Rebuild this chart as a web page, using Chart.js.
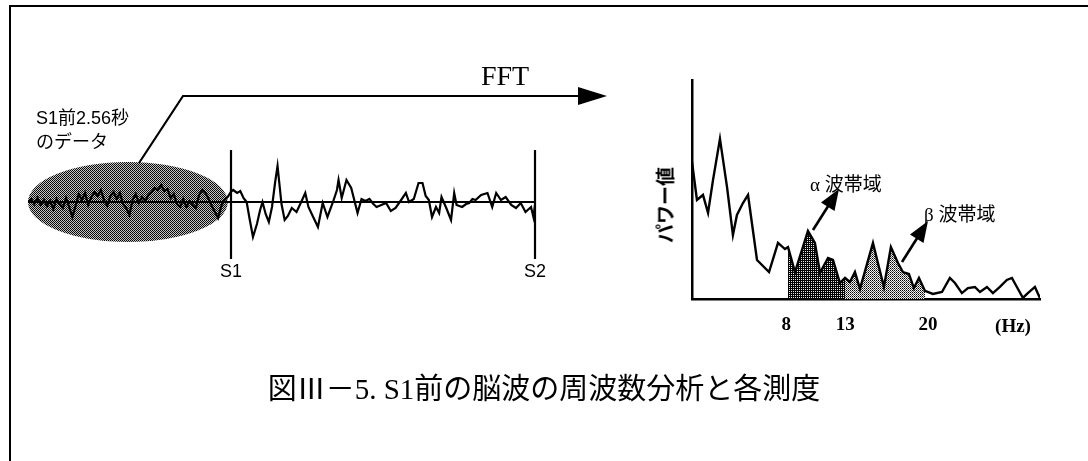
<!DOCTYPE html>
<html>
<head>
<meta charset="utf-8">
<script src="https://cdn.jsdelivr.net/npm/chart.js@4.4.1/dist/chart.umd.min.js"></script>
<style>
  html, body { margin: 0; padding: 0; background: #fff; }
  #wrap { position: relative; width: 1088px; height: 461px; overflow: hidden; background: #fff; }
  #wrap canvas { position: absolute; left: 0; top: 0; }
  .lbl { position: absolute; white-space: nowrap; color: #000; line-height: 1; }
  .sans { font-family: "Liberation Sans", "Noto Sans CJK JP", sans-serif; }
  .serif { font-family: "Liberation Serif", "Noto Sans CJK JP", serif; }
  .cjk { font-family: "Noto Sans CJK JP", sans-serif; }
</style>
</head>
<body>
<div id="wrap">
  <canvas id="eeg" width="1088" height="461"></canvas>
  <canvas id="spec" width="1088" height="461"></canvas>

  <div class="lbl serif" style="left:505px;top:76px;font-size:28px;transform:translate(-50%,-50%);">FFT</div>
  <div class="lbl sans" style="left:36px;top:118px;font-size:18px;transform:translateY(-50%);">S1前2.56秒</div>
  <div class="lbl sans" style="left:36px;top:142px;font-size:18px;transform:translateY(-50%);">のデータ</div>

  <div class="lbl cjk" style="left:664px;top:205px;font-size:19px;font-weight:bold;transform:translate(-50%,-50%) rotate(-90deg);">パワー値</div>
  <div class="lbl" style="left:810px;top:183px;font-size:19px;transform:translateY(-50%);"><span class="serif">α</span> <span class="cjk">波帯域</span></div>
  <div class="lbl" style="left:924px;top:213px;font-size:19px;transform:translateY(-50%);"><span class="serif">β</span> <span class="cjk">波帯域</span></div>
  <div class="lbl serif" style="left:1013px;top:325px;font-size:19px;font-weight:bold;transform:translate(-50%,-50%);">(Hz)</div>

  <div class="lbl" style="left:544px;top:388px;font-size:29px;transform:translate(-50%,-50%);"><span class="cjk">図Ⅲ－</span><span class="serif">5. S1</span><span class="cjk">前の脳波の周波数分析と各測度</span></div>
</div>

<script>
// ---- EEG trace (time in s relative to S1, amplitude in µV) ----
const eegTime = [
  -2.56, -2.52, -2.48, -2.44, -2.40, -2.36, -2.32, -2.28, -2.24, -2.20,
  -2.16, -2.12, -2.08, -2.04, -2.00, -1.96, -1.92, -1.88, -1.84, -1.80,
  -1.76, -1.72, -1.68, -1.64, -1.60, -1.56, -1.52, -1.48, -1.44, -1.40,
  -1.36, -1.32, -1.28, -1.24, -1.20, -1.16, -1.12, -1.08, -1.04, -1.00,
  -0.96, -0.92, -0.88, -0.84, -0.80, -0.76, -0.72, -0.68, -0.64, -0.60,
  -0.56, -0.52, -0.48, -0.44, -0.40, -0.36, -0.32, -0.28, -0.24, -0.20,
  -0.16, -0.12, -0.08, -0.04, 0.00,
  0.03, 0.08, 0.12, 0.16, 0.20, 0.24, 0.28, 0.33, 0.37, 0.40,
  0.44, 0.48, 0.52, 0.56, 0.59, 0.64, 0.68, 0.72, 0.77, 0.83,
  0.90, 0.94, 0.98, 1.04, 1.10, 1.16, 1.22, 1.29, 1.34, 1.36,
  1.40, 1.46, 1.52, 1.60, 1.65, 1.70, 1.75, 1.80, 1.84, 1.90,
  1.96, 2.02, 2.08, 2.15, 2.21, 2.25, 2.31, 2.37, 2.42, 2.46,
  2.50, 2.54, 2.59, 2.63, 2.66, 2.72, 2.78, 2.82, 2.85, 2.92,
  2.97, 3.01, 3.05, 3.09, 3.16, 3.24, 3.30, 3.35, 3.41, 3.47,
  3.54, 3.60, 3.66, 3.72, 3.79, 3.82, 3.84
];
const eegAmp = [
  0, 3, -2, 4, -3, 2, -4, 1, -7, 3,
  -2, -6, 4, -5, -15, -4, 8, 2, 9, -3,
  5, 10, 6, 12, 2, -4, 6, 10, 3, 9,
  -2, -6, -13, 2, 8, -1, 5, 1, 7, 10,
  14, 12, 17, 11, 13, 4, 8, -2, -5, 3,
  -5, 1, -3, -6, 7, 12, 9, 3, -4, -10,
  -16, -4, 2, 5, 10,
  12, 9, 11, 4, 0, -18, -35, -22, -8, 0,
  -12, -20, -5, 20, 36, -2, -18, -14, -6, -10,
  2, 9, -5, -15, -25, -1, -15, 0, 12, 22,
  4, 22, 14, -11, 3, 1, 3, -2, -5, -3,
  -1, -9, -6, 2, 9, 0, 3, 19, 19, 6,
  2, -15, -5, -11, 5, -6, -18, 9, -3, -5,
  -2, -1, 3, 2, 7, 9, -5, 9, 2, 5,
  -3, -6, -1, -10, -5, -15, -3
];
const analysisWindow = [-2.56, 0];      // S1前2.56秒
const eventTimes = [0, 3.84];
const eventLabels = ['S1', 'S2'];

// ---- Power spectrum of the analysis window ----
const freqHz = [
  0.0, 0.42, 0.93, 1.36, 1.78, 2.37, 2.97, 3.47, 3.81, 4.32,
  4.75, 5.51, 6.53, 7.29, 7.88, 8.14, 8.73, 9.83, 10.42, 10.85,
  11.53, 11.95, 12.54, 12.97, 13.39, 13.81, 14.24, 15.34, 15.76, 16.27,
  16.86, 17.46, 17.88, 18.39, 18.81, 19.24, 19.75, 20.42, 21.19, 21.86,
  22.29, 22.88, 23.39, 23.98, 24.41, 25.0, 25.51, 26.1, 26.69, 27.12,
  27.54, 28.05, 28.47, 29.07, 29.49
];
const power = [
  62.6, 45.2, 47.5, 39.3, 54.3, 73.1, 51.1, 29.2, 38.4, 43.8,
  47.5, 17.8, 12.3, 25.6, 22.8, 23.7, 12.3, 31.1, 25.6, 11.9,
  18.7, 17.8, 7.3, 9.6, 7.8, 12.3, 4.6, 25.6, 16.4, 5.5,
  23.7, 16.4, 12.3, 11.4, 5.0, 9.6, 3.7, 2.3, 3.2, 9.6,
  7.3, 2.7, 5.0, 5.5, 3.2, 5.5, 2.7, 5.5, 8.7, 9.6,
  5.5, 0.5, 2.7, 5.5, 0.5
];
const alphaBand = [8, 13];
const betaBand = [13, 20];
const freqTicks = [8, 13, 20];

// ---- halftone fills ----
function halftone(cells, base) {
  const c = document.createElement('canvas');
  c.width = 2; c.height = 2;
  const g = c.getContext('2d');
  g.fillStyle = base;
  g.fillRect(0, 0, 2, 2);
  cells.forEach(([x, y, col]) => { g.fillStyle = col; g.fillRect(x, y, 1, 1); });
  return g.createPattern(c, 'repeat');
}
const windowFill = halftone([[0, 0, '#000'], [1, 1, '#111']], '#c4c4c4');
const alphaFill = halftone([[0, 0, '#000'], [1, 0, '#000'], [0, 1, '#000']], '#e8e8e8');
const betaFill = halftone([[0, 0, '#000'], [1, 1, '#555']], '#f2f2f2');

const toPoints = (xs, ys) => xs.map((x, i) => ({ x, y: ys[i] }));
const eegPoints = toPoints(eegTime, eegAmp);
const specPoints = toPoints(freqHz, power);
const alphaPoints = specPoints.filter(p => p.x >= alphaBand[0] && p.x <= alphaBand[1]);
const alphaEnd = alphaPoints[alphaPoints.length - 1].x;
const betaPoints = specPoints.filter(p => p.x >= alphaEnd && p.x <= betaBand[1]);

const W = 1088, H = 461;

// window ellipse, baseline and S1/S2 event markers
const eegMarks = {
  id: 'eegMarks',
  beforeDatasetsDraw(chart) {
    const { ctx, chartArea, scales: { x, y } } = chart;
    const x0 = x.getPixelForValue(analysisWindow[0]);
    const x1 = x.getPixelForValue(analysisWindow[1]);
    const yc = y.getPixelForValue(0);
    const ry = yc - y.getPixelForValue(40);
    ctx.save();
    ctx.fillStyle = windowFill;
    ctx.beginPath();
    ctx.ellipse((x0 + x1) / 2 - 1.5, yc, (x1 - x0) / 2 - 1.5, ry, 0, 0, Math.PI * 2);
    ctx.fill();
    ctx.strokeStyle = '#000';
    ctx.lineWidth = 1.8;
    ctx.beginPath();
    ctx.moveTo(chartArea.left, yc);
    ctx.lineTo(x.getPixelForValue(eventTimes[1]), yc);
    ctx.stroke();
    ctx.restore();
  },
  afterDatasetsDraw(chart) {
    const { ctx, chartArea, scales: { x } } = chart;
    ctx.save();
    ctx.strokeStyle = '#000';
    ctx.lineWidth = 2.2;
    ctx.fillStyle = '#000';
    ctx.font = '18px "Liberation Sans", sans-serif';
    ctx.textAlign = 'center';
    ctx.textBaseline = 'middle';
    eventTimes.forEach((t, i) => {
      const px = Math.round(x.getPixelForValue(t));
      ctx.beginPath();
      ctx.moveTo(px, chartArea.top);
      ctx.lineTo(px, chartArea.bottom);
      ctx.stroke();
      ctx.fillText(eventLabels[i], px, chartArea.bottom + 13);
    });
    ctx.restore();
  }
};

new Chart(document.getElementById('eeg'), {
  type: 'line',
  data: {
    datasets: [{
      data: eegPoints,
      borderColor: '#000',
      borderWidth: 2.2,
      pointRadius: 0,
      tension: 0,
      fill: false
    }]
  },
  options: {
    responsive: false,
    animation: false,
    events: [],
    layout: { padding: { left: 28, right: W - 535, top: 150, bottom: H - 259 } },
    plugins: { legend: { display: false }, tooltip: { enabled: false } },
    scales: {
      x: { type: 'linear', display: false, min: -2.56, max: 3.84 },
      y: { type: 'linear', display: false, min: -57, max: 52 }
    }
  },
  plugins: [eegMarks]
});

// frame, FFT arrow and band pointers
function arrow(ctx, x0, y0, x1, y1, head, half, width) {
  const dx = x1 - x0, dy = y1 - y0, len = Math.hypot(dx, dy);
  const ux = dx / len, uy = dy / len;
  const bx = x1 - ux * head, by = y1 - uy * head;
  ctx.lineWidth = width;
  ctx.beginPath();
  ctx.moveTo(x0, y0);
  ctx.lineTo(bx + ux * 2, by + uy * 2);
  ctx.stroke();
  ctx.beginPath();
  ctx.moveTo(x1, y1);
  ctx.lineTo(bx - uy * half, by + ux * half);
  ctx.lineTo(bx + uy * half, by - ux * half);
  ctx.closePath();
  ctx.fill();
}
const overlay = {
  id: 'overlay',
  afterDraw(chart) {
    const ctx = chart.ctx;
    ctx.save();
    ctx.strokeStyle = '#000';
    ctx.fillStyle = '#000';
    ctx.lineJoin = 'miter';
    ctx.lineWidth = 2;
    ctx.beginPath();
    ctx.moveTo(10, H);
    ctx.lineTo(10, 6);
    ctx.lineTo(W, 6);
    ctx.stroke();

    ctx.lineWidth = 2.2;
    ctx.beginPath();
    ctx.moveTo(139, 163);
    ctx.lineTo(183, 96);
    ctx.lineTo(582, 96);
    ctx.stroke();
    ctx.beginPath();
    ctx.moveTo(607, 96);
    ctx.lineTo(578, 87);
    ctx.lineTo(578, 105);
    ctx.closePath();
    ctx.fill();

    arrow(ctx, 813, 230, 839, 189, 21, 8, 2.6);
    arrow(ctx, 902, 262, 928, 221, 21, 8, 2.6);
    ctx.restore();
  }
};

new Chart(document.getElementById('spec'), {
  type: 'line',
  data: {
    datasets: [
      { data: specPoints, borderColor: '#000', borderWidth: 2.4, pointRadius: 0, tension: 0, fill: false },
      { data: alphaPoints, borderWidth: 0, borderColor: 'rgba(0,0,0,0)', backgroundColor: alphaFill, pointRadius: 0, tension: 0, fill: 'origin' },
      { data: betaPoints, borderWidth: 0, borderColor: 'rgba(0,0,0,0)', backgroundColor: betaFill, pointRadius: 0, tension: 0, fill: 'origin' }
    ]
  },
  options: {
    responsive: false,
    animation: false,
    events: [],
    layout: { padding: { left: 692, right: W - 1040, top: 80, bottom: H - 299 - 40 } },
    plugins: { legend: { display: false }, tooltip: { enabled: false } },
    scales: {
      x: {
        type: 'linear', min: 0, max: 29.5,
        grid: { display: false, drawTicks: false },
        border: { display: true, color: '#000', width: 2.5 },
        ticks: {
          color: '#000', padding: 15, autoSkip: false, maxRotation: 0,
          font: { family: '"Liberation Serif", serif', size: 19, weight: 'bold' },
          callback: v => String(v)
        },
        afterBuildTicks: s => { s.ticks = freqTicks.map(v => ({ value: v })); },
        afterFit: s => { s.height = 40; }
      },
      y: {
        type: 'linear', min: 0, max: 100,
        grid: { display: false, drawTicks: false },
        border: { display: true, color: '#000', width: 2.5 },
        ticks: { display: false },
        afterFit: s => { s.width = 0; }
      }
    }
  },
  plugins: [overlay]
});
</script>
</body>
</html>
